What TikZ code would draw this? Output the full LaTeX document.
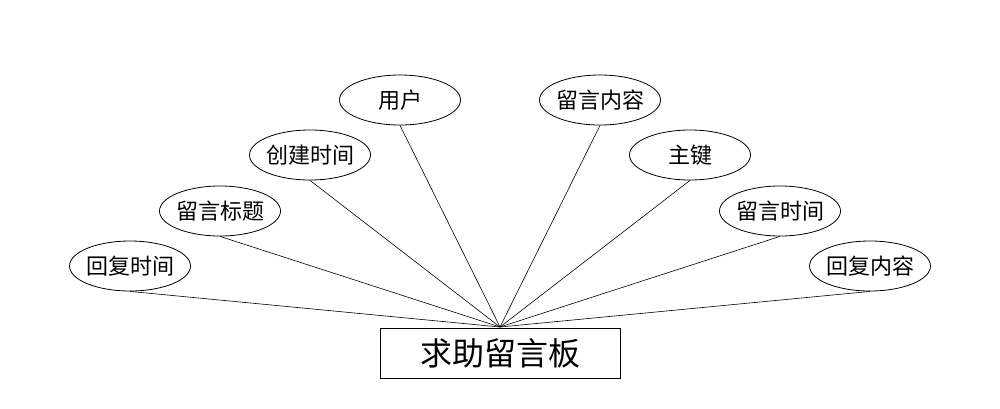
\documentclass[tikz,border=0pt]{standalone}
\usepackage{fontspec}
\usetikzlibrary{shapes.geometric}
\newfontfamily\cjk{Noto Sans CJK SC}
\begin{document}
\begin{tikzpicture}[x=1pt,y=-1pt,
  attr/.style={draw,ellipse,line width=0.8pt,minimum width=121pt,minimum height=50pt,inner xsep=-4pt,inner ysep=0pt,font=\cjk\fontsize{22}{22}\selectfont},
  entity/.style={draw,rectangle,line width=0.8pt,minimum width=240pt,minimum height=50pt,inner sep=0pt,font=\cjk\fontsize{32}{32}\selectfont},
  link/.style={line width=0.6pt}]
\useasboundingbox (0,0) rectangle (1000,408);
\node[entity] (e) at (500,353) {求助留言板};
\coordinate (hub) at (500,327);
\node[attr] (a1) at (130,266) {回复时间};
\node[attr] (a2) at (220,211) {留言标题};
\node[attr] (a3) at (310,155) {创建时间};
\node[attr] (a4) at (400,100) {用户};
\node[attr] (a5) at (600,100) {留言内容};
\node[attr] (a6) at (690,155) {主键};
\node[attr] (a7) at (780,211) {留言时间};
\node[attr] (a8) at (870,266) {回复内容};
\foreach \n in {a1,a2,a3,a4,a5,a6,a7,a8}
  \draw[link] (\n.south) -- (hub);
\end{tikzpicture}
\end{document}
